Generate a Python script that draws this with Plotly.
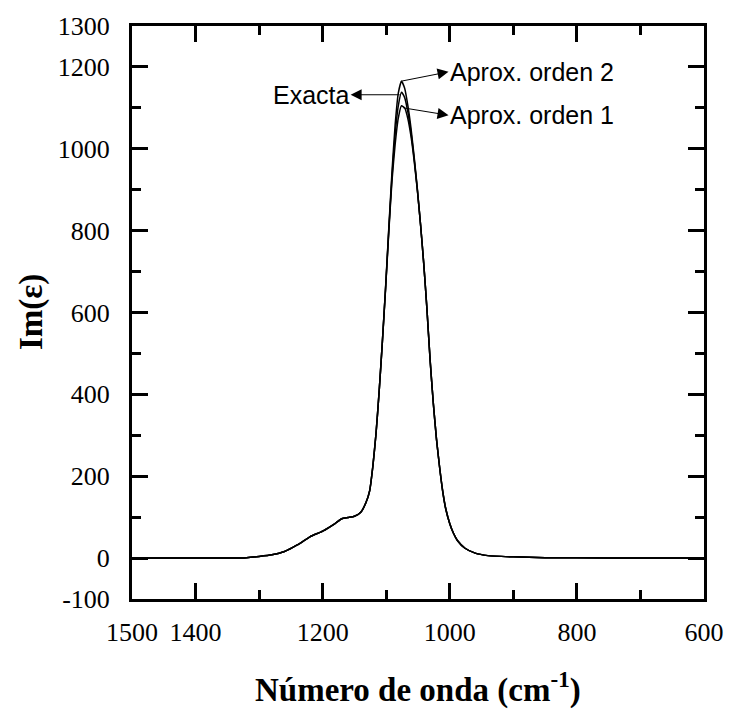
import plotly.graph_objects as go

# Wavenumber grid (cm^-1) shared by the three curves
wavenumber = [1500, 1400, 1340, 1320, 1300, 1280, 1260, 1240, 1220, 1200, 1180, 1170,
              1160, 1150, 1140, 1132, 1126, 1121, 1116, 1111, 1106, 1101, 1096, 1091,
              1086, 1081, 1076, 1071, 1066, 1061, 1056, 1051, 1046, 1041, 1036, 1031,
              1026, 1021, 1016, 1011, 1006, 1000, 994, 988, 976, 960, 940, 900, 850,
              800, 700, 600]

# Im(eps) for the exact solution and the two approximations
im_exacta = [0, 0, 0, 1, 4, 8, 16, 32, 52, 66, 85, 96,
             99, 102, 112, 135, 165, 225, 305, 410, 530, 660, 800, 930,
             1035, 1105, 1138, 1125, 1090, 1040, 975, 900, 815, 720, 610, 485,
             380, 292, 222, 162, 118, 84, 60, 43, 24, 12, 6, 3, 1,
             0.5, 0, 0]
im_orden2 = [0, 0, 0, 1, 4, 8, 16, 32, 52, 66, 85, 96,
             99, 102, 112, 135, 165, 225, 305, 410, 530, 662, 805, 942,
             1058, 1136, 1165, 1148, 1106, 1050, 980, 902, 815, 720, 610, 485,
             380, 292, 222, 162, 118, 84, 60, 43, 24, 12, 6, 3, 1,
             0.5, 0, 0]
im_orden1 = [0, 0, 0, 1, 4, 8, 16, 32, 52, 66, 85, 96,
             99, 102, 112, 135, 165, 225, 305, 410, 530, 658, 795, 920,
             1010, 1075, 1105, 1100, 1074, 1030, 970, 898, 815, 720, 610, 485,
             380, 292, 222, 162, 118, 84, 60, 43, 24, 12, 6, 3, 1,
             0.5, 0, 0]

x_major = [1500, 1400, 1200, 1000, 800, 600]
x_minor = [1300, 1100, 900, 700]
y_major = [-100, 0, 200, 400, 600, 800, 1000, 1200, 1300]
y_minor = [100, 300, 500, 700, 900, 1100]

fig = go.Figure()
for name, vals in [("Exacta", im_exacta), ("Aprox. orden 2", im_orden2),
                   ("Aprox. orden 1", im_orden1)]:
    fig.add_trace(go.Scatter(x=wavenumber, y=vals, mode="lines", name=name,
                             line=dict(color="black", width=1.5, shape="spline",
                                       smoothing=0.5),
                             showlegend=False))

tick_font = dict(family="Liberation Serif", size=26, color="black")
axis_common = dict(showline=True, linewidth=3, linecolor="black", mirror="ticks",
                   ticks="inside", ticklen=16, tickwidth=3, tickcolor="black",
                   showgrid=False, zeroline=False, tickfont=tick_font)

fig.update_xaxes(range=[1500, 600], tickmode="array", tickvals=x_major,
                 ticktext=[str(v) for v in x_major], ticklabelstandoff=8,
                 minor=dict(tickmode="array", tickvals=x_minor, ticks="inside",
                            ticklen=9, tickwidth=3, tickcolor="black"),
                 **axis_common)
fig.update_yaxes(range=[-100, 1300], tickmode="array", tickvals=y_major,
                 ticktext=[str(v) for v in y_major], ticklabelstandoff=14,
                 minor=dict(tickmode="array", tickvals=y_minor, ticks="inside",
                            ticklen=9, tickwidth=3, tickcolor="black"),
                 **axis_common)

label_font = dict(family="Liberation Sans", size=25, color="black")

# Each label sits at the arrow tail; the arrowhead is drawn at the label side
labels = [
    # text, curve point (x, y), label anchor point (ax, ay), xanchor
    ("Exacta", 1079, 1132, 1156, 1132, "right"),
    ("Aprox. orden 2", 1077, 1165, 1002, 1188, "left"),
    ("Aprox. orden 1", 1073, 1100, 1002, 1082, "left"),
]
for text, x0, y0, ax, ay, anchor in labels:
    fig.add_annotation(x=x0, y=y0, ax=ax, ay=ay, xref="x", yref="y", axref="x",
                       ayref="y", text=text, showarrow=True, xanchor=anchor,
                       arrowside="start", startarrowhead=2, startarrowsize=2.2,
                       arrowwidth=1, arrowcolor="black", borderpad=0,
                       font=label_font)

title_font = dict(family="Liberation Serif", size=33, color="black")
fig.add_annotation(x=-0.1756, y=0.5, xref="paper", yref="paper",
                   xanchor="center", yanchor="middle",
                   text="<b>Im(ε)</b>", showarrow=False, textangle=-90,
                   font=title_font)
fig.add_annotation(x=0.5, y=-0.155, xref="paper", yref="paper",
                   xanchor="center", yanchor="middle",
                   text="<b>Número de onda (cm<sup>-1</sup>)</b>", showarrow=False,
                   font=title_font)

fig.update_layout(width=736, height=711, margin=dict(l=132, r=23, t=22, b=112),
                  plot_bgcolor="white", paper_bgcolor="white")

fig.write_html("out.html")
